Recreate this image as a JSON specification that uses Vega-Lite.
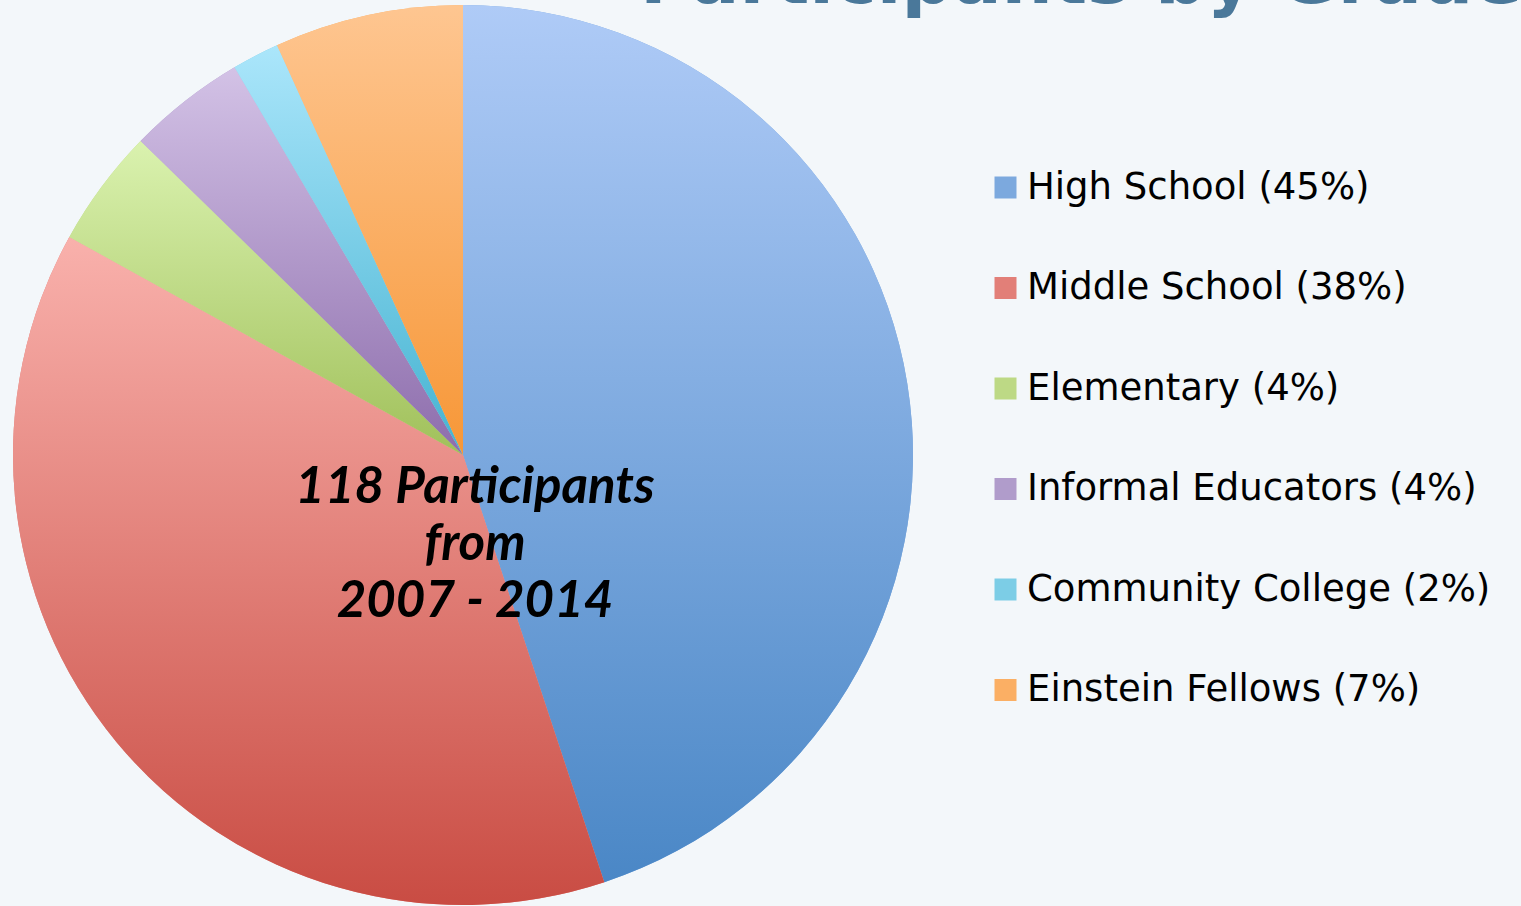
{
  "$schema": "https://vega.github.io/schema/vega-lite/v6.json",
  "width": 926,
  "height": 910,
  "autosize": "none",
  "padding": {"left": 0, "top": 0, "right": 595, "bottom": 0},
  "background": "#f3f7fa",
  "config": {"view": {"stroke": null}},
  "data": {
    "values": [
      {"idx": 1, "group": "High School (45%)", "count": 53},
      {"idx": 2, "group": "Middle School (38%)", "count": 45},
      {"idx": 3, "group": "Elementary (4%)", "count": 5},
      {"idx": 4, "group": "Informal Educators (4%)", "count": 5},
      {"idx": 5, "group": "Community College (2%)", "count": 2},
      {"idx": 6, "group": "Einstein Fellows (7%)", "count": 8}
    ]
  },
  "layer": [
    {
      "mark": {"type": "arc", "outerRadius": 450},
      "encoding": {
        "theta": {"field": "count", "type": "quantitative", "stack": true},
        "order": {"field": "idx", "type": "quantitative"},
        "color": {
          "field": "group",
          "type": "nominal",
          "sort": null,
          "scale": {
            "domain": ["High School (45%)", "Middle School (38%)", "Elementary (4%)", "Informal Educators (4%)", "Community College (2%)", "Einstein Fellows (7%)"],
            "range": ["#7ca9de", "#e27f78", "#bdd985", "#b09ccb", "#7ccde6", "#fbaf64"]
          },
          "legend": {
            "orient": "none",
            "legendX": 987,
            "legendY": 169,
            "title": null,
            "padding": 0,
            "symbolType": "square",
            "symbolSize": 484,
            "symbolStrokeWidth": 0,
            "labelFont": "DejaVu Sans",
            "labelFontSize": 37,
            "labelColor": "#000000",
            "labelOffset": 3,
            "labelLimit": 600,
            "rowPadding": 62.5
          }
        }
      }
    },
    {
      "mark": {"type": "arc", "outerRadius": 450},
      "encoding": {
        "theta": {"field": "count", "type": "quantitative", "stack": true},
        "order": {"field": "idx", "type": "quantitative"},
        "fill": {
          "condition": [
            {"test": "datum.idx == 1", "value": {"gradient": "linear", "x1": 0, "y1": 0, "x2": 0, "y2": 1, "stops": [{"offset": 0, "color": "#afcbf7"}, {"offset": 1, "color": "#4a87c6"}]}},
            {"test": "datum.idx == 2", "value": {"gradient": "linear", "x1": 0, "y1": 0, "x2": 0, "y2": 1, "stops": [{"offset": 0, "color": "#f9b1ac"}, {"offset": 1, "color": "#c94c43"}]}},
            {"test": "datum.idx == 3", "value": {"gradient": "linear", "x1": 0, "y1": 0, "x2": 0, "y2": 1, "stops": [{"offset": 0, "color": "#daf2af"}, {"offset": 1, "color": "#a0c05a"}]}},
            {"test": "datum.idx == 4", "value": {"gradient": "linear", "x1": 0, "y1": 0, "x2": 0, "y2": 1, "stops": [{"offset": 0, "color": "#d3c2e6"}, {"offset": 1, "color": "#8d6dac"}]}},
            {"test": "datum.idx == 5", "value": {"gradient": "linear", "x1": 0, "y1": 0, "x2": 0, "y2": 1, "stops": [{"offset": 0, "color": "#abe6fb"}, {"offset": 1, "color": "#45b3d1"}]}}
          ],
          "value": {"gradient": "linear", "x1": 0, "y1": 0, "x2": 0, "y2": 1, "stops": [{"offset": 0, "color": "#fec691"}, {"offset": 1, "color": "#f79737"}]}
        }
      }
    },
    {
      "data": {"values": [{"note": "118 Participants\nfrom\n2007 - 2014"}]},
      "mark": {
        "type": "text",
        "lineBreak": "\n",
        "font": "Lato",
        "fontSize": 51,
        "fontWeight": "bold",
        "fontStyle": "italic",
        "lineHeight": 57,
        "align": "center",
        "baseline": "middle",
        "dx": 12,
        "dy": 33,
        "color": "#000000"
      },
      "encoding": {"text": {"field": "note", "type": "nominal"}}
    },
    {
      "data": {"values": [{"heading": "Participants by Grade"}]},
      "mark": {
        "type": "text",
        "font": "DejaVu Sans",
        "fontSize": 72,
        "fontWeight": "bold",
        "align": "left",
        "baseline": "alphabetic",
        "color": "#4a789a"
      },
      "encoding": {
        "text": {"field": "heading", "type": "nominal"},
        "x": {"value": 640},
        "y": {"value": 3}
      }
    }
  ]
}
